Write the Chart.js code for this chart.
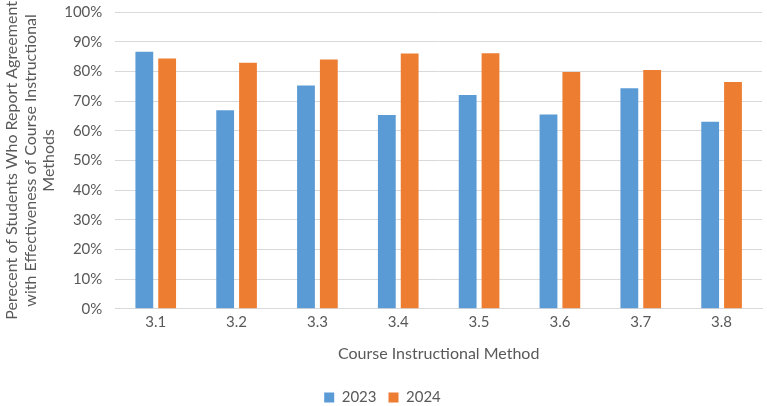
<!DOCTYPE html>
<html>
<head>
<meta charset="utf-8">
<script src="https://cdn.jsdelivr.net/npm/chart.js@4/dist/chart.umd.min.js"></script>
<style>
  html, body { margin: 0; padding: 0; background: #fff; }
  #wrap { width: 767px; height: 406px; position: relative; }
</style>
</head>
<body>
<div id="wrap"><canvas id="chart"></canvas></div>
<script>
// course instructional methods
const methods = ['3.1', '3.2', '3.3', '3.4', '3.5', '3.6', '3.7', '3.8'];
// percent agreeing, by year
const values2023 = [86.6, 66.9, 75.2, 65.3, 72.0, 65.5, 74.3, 63.0];
const values2024 = [84.3, 82.9, 84.0, 86.0, 86.1, 79.8, 80.5, 76.4];
const yearLabels = ['2023', '2024'];

const fontFamily = "Lato, 'Open Sans', sans-serif";
const textColor = '#595959';

const ctx = document.getElementById('chart').getContext('2d');
new Chart(ctx, {
  type: 'bar',
  data: {
    labels: methods,
    datasets: [
      {
        label: yearLabels[0],
        data: values2023,
        backgroundColor: '#5b9bd5',
        categoryPercentage: 0.565,
        barPercentage: 0.78
      },
      {
        label: yearLabels[1],
        data: values2024,
        backgroundColor: '#ed7d31',
        categoryPercentage: 0.565,
        barPercentage: 0.78
      }
    ]
  },
  options: {
    responsive: true,
    maintainAspectRatio: false,
    animation: false,
    layout: { padding: { top: 0, right: 5, left: 3, bottom: 0 } },
    plugins: {
      legend: {
        position: 'bottom',
        maxHeight: 28,
        labels: {
          boxWidth: 10,
          boxHeight: 10,
          padding: 12,
          color: textColor,
          font: { family: fontFamily, size: 15 }
        }
      },
      tooltip: { enabled: false }
    },
    scales: {
      x: {
        grid: { display: false, drawTicks: false },
        border: { color: '#d9d9d9' },
        ticks: { color: textColor, font: { family: fontFamily, size: 15 }, padding: 4 },
        title: {
          display: true,
          text: 'Course Instructional Method',
          color: textColor,
          font: { family: fontFamily, size: 16 },
          padding: { top: 9, bottom: 15 }
        }
      },
      y: {
        min: 0,
        max: 100,
        ticks: {
          stepSize: 10,
          color: textColor,
          padding: 3,
          font: { family: fontFamily, size: 15 },
          callback: v => v + '%'
        },
        grid: { color: '#d9d9d9', drawTicks: true, tickLength: 10, tickColor: 'rgba(0,0,0,0)' },
        border: { display: false },
        title: {
          display: true,
          text: ['Perecent of Students Who Report Agreement', 'with Effectiveness of Course Instructional', 'Methods'],
          color: textColor,
          font: { family: fontFamily, size: 16, lineHeight: 1.15 },
          padding: { top: 0, bottom: 3 }
        }
      }
    }
  }
});
</script>
</body>
</html>
